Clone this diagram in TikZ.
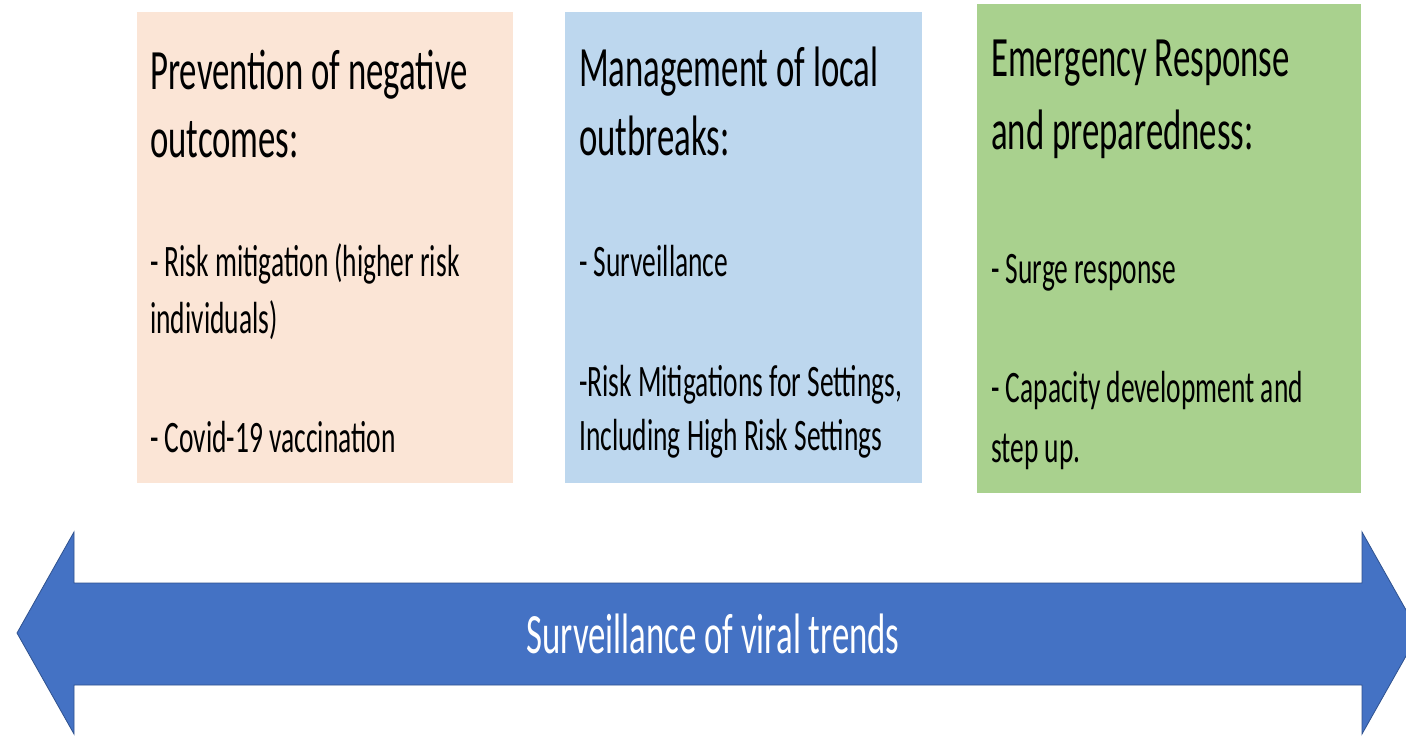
\documentclass[tikz,border=0pt]{standalone}
\usepackage{fontspec}
\setmainfont{Carlito}[FakeStretch=0.61]
\definecolor{peach}{HTML}{FBE5D6}
\definecolor{lblue}{HTML}{BDD7EE}
\definecolor{lgreen}{HTML}{A9D18E}
\definecolor{abody}{HTML}{4472C4}
\definecolor{aedge}{HTML}{2F528F}
\tikzset{
  title/.style={anchor=base west, inner sep=0pt, font=\fontsize{57}{68}\selectfont},
  item/.style={anchor=base west, inner sep=0pt, font=\fontsize{45}{54}\selectfont},
  bigarrow/.style={fill=abody, draw=aedge, line width=0.8pt}
}
\begin{document}
\begin{tikzpicture}[x=1pt,y=-1pt]
\useasboundingbox (0,0) rectangle (1406,736);
\fill[white] (0,0) rectangle (1406,736);
% panels
\fill[peach] (137,12) rectangle (513,483);
\fill[lblue] (565,12) rectangle (922,483);
\fill[lgreen] (977,4) rectangle (1361,493);
% panel 1
\node[title] (p1a) at (150,89) {Prevention of negative};
\node[title] (p1b) at (150,157) {outcomes:};
\node[item] (p1c) at (150,276) {- Risk mitigation (higher risk};
\node[item] (p1d) at (150,333) {individuals)};
\node[item] (p1e) at (150,452) {- Covid-19 vaccination};
% panel 2
\node[title] (p2a) at (579,86) {Management of local};
\node[title] (p2b) at (579,155) {outbreaks:};
\node[item] (p2c) at (579,276) {- Surveillance};
\node[item] (p2d) at (579,396) {-Risk Mitigations for Settings,};
\node[item] (p2e) at (579,450) {Including High Risk Settings};
% panel 3
\node[title] (p3a) at (991,76) {Emergency Response};
\node[title] (p3b) at (991,149) {and preparedness:};
\node[item] (p3c) at (991,283) {- Surge response};
\node[item] (p3d) at (991,402) {- Capacity development and};
\node[item] (p3e) at (991,462) {step up.};
% arrow
\begin{scope}
\clip (0,0) rectangle (1406,736);
\draw[bigarrow] (17,633) -- (74,532) -- (74,583) -- (1362,583) -- (1362,532)
  -- (1419,633) -- (1362,734) -- (1362,685) -- (74,685) -- (74,734) -- cycle;
\end{scope}
\node[title, anchor=base, text=white] (lab) at (713,653) {Surveillance of viral trends};
\end{tikzpicture}
\end{document}
